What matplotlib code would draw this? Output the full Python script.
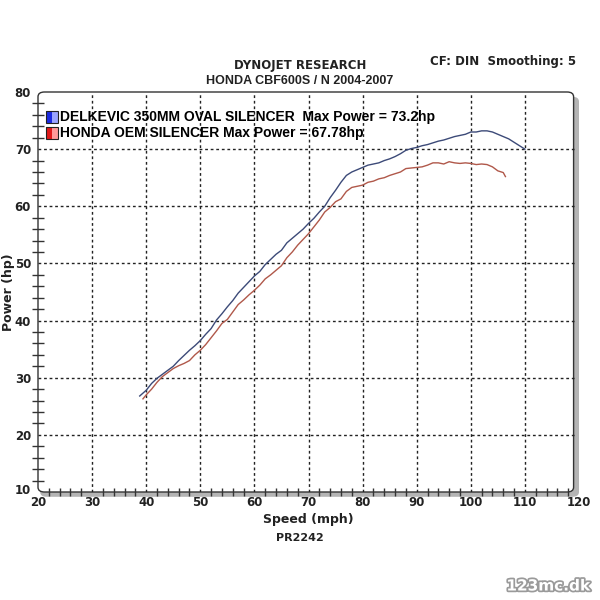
import matplotlib
matplotlib.use("Agg")
import matplotlib.pyplot as plt
from matplotlib.patches import FancyBboxPatch, Rectangle
import matplotlib.patheffects as pe
import matplotlib.transforms as mtransforms
import numpy as np

# ---- data ----
blue_speed = [38.8, 40, 41, 42, 43, 44, 45, 46, 47, 48, 49, 50, 51, 52, 53, 54, 55, 56, 57, 58, 59,
              60, 61, 62, 63, 64, 65, 66, 67, 68, 69, 70, 71, 72, 73, 74, 75, 76, 77, 78, 79,
              80, 81, 82, 83, 84, 85, 86, 87, 88, 89, 90, 91, 92, 93, 94, 95, 96, 97, 98, 99,
              100, 101, 102, 103, 104, 105, 106, 107, 108, 109, 110]
blue_power = [26.8, 27.8, 29.0, 29.9, 30.6, 31.3, 32.0, 33.0, 33.9, 34.8, 35.6, 36.5, 37.6, 38.6, 40.1,
              41.2, 42.4, 43.5, 44.8, 45.8, 46.8, 47.8, 48.6, 49.8, 50.7, 51.6, 52.3, 53.6, 54.4,
              55.2, 56.0, 57.0, 57.9, 59.0, 60.0, 61.5, 62.8, 64.2, 65.4, 66.0, 66.4, 66.8, 67.2,
              67.4, 67.6, 68.0, 68.3, 68.7, 69.2, 69.8, 70.1, 70.3, 70.6, 70.8, 71.1, 71.4, 71.6,
              71.9, 72.2, 72.4, 72.6, 73.0, 73.0, 73.2, 73.2, 73.0, 72.6, 72.2, 71.8, 71.2, 70.6, 70.0]

red_speed = [39.4, 40, 41, 42, 43, 44, 45, 46, 47, 48, 49, 50, 51, 52, 53, 54, 55, 56, 57, 58, 59,
             60, 61, 62, 63, 64, 65, 66, 67, 68, 69, 70, 71, 72, 73, 74, 75, 76, 77, 78, 79,
             80, 81, 82, 83, 84, 85, 86, 87, 88, 89, 90, 91, 92, 93, 94, 95, 96, 97, 98, 99,
             100, 101, 102, 103, 104, 105, 106, 106.4]
red_power = [26.3, 27.0, 28.0, 29.2, 30.2, 30.9, 31.6, 32.1, 32.5, 33.0, 34.0, 34.8, 35.8, 37.0, 38.2,
             39.5, 40.2, 41.5, 42.8, 43.6, 44.5, 45.3, 46.2, 47.3, 48.0, 48.8, 49.6, 51.0, 52.0,
             53.2, 54.2, 55.2, 56.4, 57.6, 59.0, 59.8, 60.8, 61.3, 62.6, 63.3, 63.5, 63.7, 64.2,
             64.4, 64.8, 65.0, 65.4, 65.7, 66.0, 66.6, 66.7, 66.8, 66.9, 67.2, 67.6, 67.6, 67.4,
             67.8, 67.6, 67.5, 67.6, 67.5, 67.3, 67.4, 67.3, 66.9, 66.2, 65.9, 65.2]

x_ticks = [20, 30, 40, 50, 60, 70, 80, 90, 100, 110, 120]
y_ticks = [10, 20, 30, 40, 50, 60, 70, 80]

blue_label = "DELKEVIC 350MM OVAL SILENCER  Max Power = 73.2hp"
red_label = "HONDA OEM SILENCER Max Power = 67.78hp"

# ---- figure ----
fig = plt.figure(figsize=(6, 6), dpi=100)
fig.patch.set_facecolor("white")
ax = fig.add_axes([38 / 600, 1 - 492 / 600, 541 / 600, 400 / 600])
ax.set_xlim(20, 120)
ax.set_ylim(10, 80)
ax.patch.set_alpha(0)
for s in ax.spines.values():
    s.set_visible(False)

# frame with shadow
shadow = FancyBboxPatch((0.004, -0.012), 0.996, 1.0, boxstyle="round,pad=0,rounding_size=0.012",
                        transform=ax.transAxes, facecolor="#b4b4b4", edgecolor="none",
                        zorder=0, clip_on=False)
ax.add_patch(shadow)
frame = FancyBboxPatch((0, 0), 0.99, 1.0, boxstyle="round,pad=0,rounding_size=0.012",
                       transform=ax.transAxes, facecolor="white", edgecolor="#333333",
                       linewidth=1.0, zorder=0.5, clip_on=False)
ax.add_patch(frame)

ax.set_xticks(x_ticks)
ax.set_yticks(y_ticks)
ax.set_xticks(np.arange(22, 120, 2), minor=True)
ax.set_yticks(np.arange(12, 80, 2), minor=True)
ax.tick_params(axis="x", which="major", length=0, labelsize=8.5, pad=3)
ax.tick_params(axis="y", which="major", length=0, labelsize=8.5, pad=5)
ax.tick_params(axis="x", which="minor", direction="inout", length=6, width=1.0, color="#333333")
ax.tick_params(axis="y", which="minor", direction="inout", length=8, width=1.0, color="#333333")
for lab in ax.get_xticklabels() + ax.get_yticklabels():
    lab.set_fontweight("bold")
    lab.set_family("DejaVu Sans")
    lab.set_color("#222222")
# lift the "10" label a little so it clears the "20" below it
lab10 = ax.get_yticklabels()[0]
lab10.set_transform(lab10.get_transform() + mtransforms.ScaledTranslation(0, 2.5 / 100, fig.dpi_scale_trans))

# grid
for xv in x_ticks[1:-1]:
    ax.plot([xv, xv], [10, 80], color="#222222", lw=1.0, ls=(0, (2, 2)), zorder=1)
for yv in y_ticks[1:-1]:
    ax.plot([20, 120 * 0.99 + 20 * 0.01], [yv, yv], color="#222222", lw=1.0, ls=(0, (2, 2)), zorder=1)

# curves
ax.plot(blue_speed, blue_power, color="#3c4a78", lw=1.0, zorder=3)
ax.plot(red_speed, red_power, color="#b0584a", lw=1.0, zorder=3)

# legend
for i, (lab, c1, c2) in enumerate([(blue_label, "#1a2ae0", "#9aa4ff"), (red_label, "#e01a1a", "#ff9a9a")]):
    yy = 117 + i * 16
    x0f = 46 / 600
    y0f = 1 - (yy + 6) / 600
    fig.patches.append(Rectangle((x0f, y0f), 6 / 600, 12 / 600, transform=fig.transFigure,
                                 facecolor=c1, edgecolor="none", zorder=5))
    fig.patches.append(Rectangle((x0f + 6 / 600, y0f), 6 / 600, 12 / 600, transform=fig.transFigure,
                                 facecolor=c2, edgecolor="none", zorder=5))
    fig.patches.append(Rectangle((x0f, y0f), 12 / 600, 12 / 600, transform=fig.transFigure,
                                 facecolor="none", edgecolor="#222222", lw=0.8, zorder=6))
    fig.text(60 / 600, 1 - yy / 600, lab, fontsize=10, fontweight="bold",
             family="Liberation Sans", va="center", ha="left", color="black")

# titles
fig.text(300 / 600, 1 - 65 / 600, "DYNOJET RESEARCH", fontsize=8.5, fontweight="bold",
         family="DejaVu Sans", ha="center", va="center", color="#222222")
fig.text(300 / 600, 1 - 81 / 600, "HONDA CBF600S / N 2004-2007", fontsize=9, fontweight="bold",
         family="Liberation Sans", ha="center", va="center", color="#222222")
fig.text(576 / 600, 1 - 62 / 600, "CF: DIN  Smoothing: 5", fontsize=8.5, fontweight="bold",
         family="DejaVu Sans", ha="right", va="center", color="#222222")

fig.text(308 / 600, 1 - 519 / 600, "Speed (mph)", fontsize=9, fontweight="bold",
         family="DejaVu Sans", ha="center", va="center", color="#222222")
fig.text(300 / 600, 1 - 538 / 600, "PR2242", fontsize=8, fontweight="bold",
         family="DejaVu Sans", ha="center", va="center", color="#222222")
fig.text(9 / 600, 1 - 292 / 600, "Power (hp)", fontsize=9, fontweight="bold", rotation=90,
         family="DejaVu Sans", ha="center", va="center", color="#222222")

# watermark
fig.text(548 / 600, 1 - 586 / 600, "123mc.dk", fontsize=11, fontweight="bold",
         family="DejaVu Sans", ha="center", va="center", color="white",
         path_effects=[pe.withStroke(linewidth=2.5, foreground="#9a9a9a")])

fig.savefig("out.png", dpi=100, facecolor="white")
